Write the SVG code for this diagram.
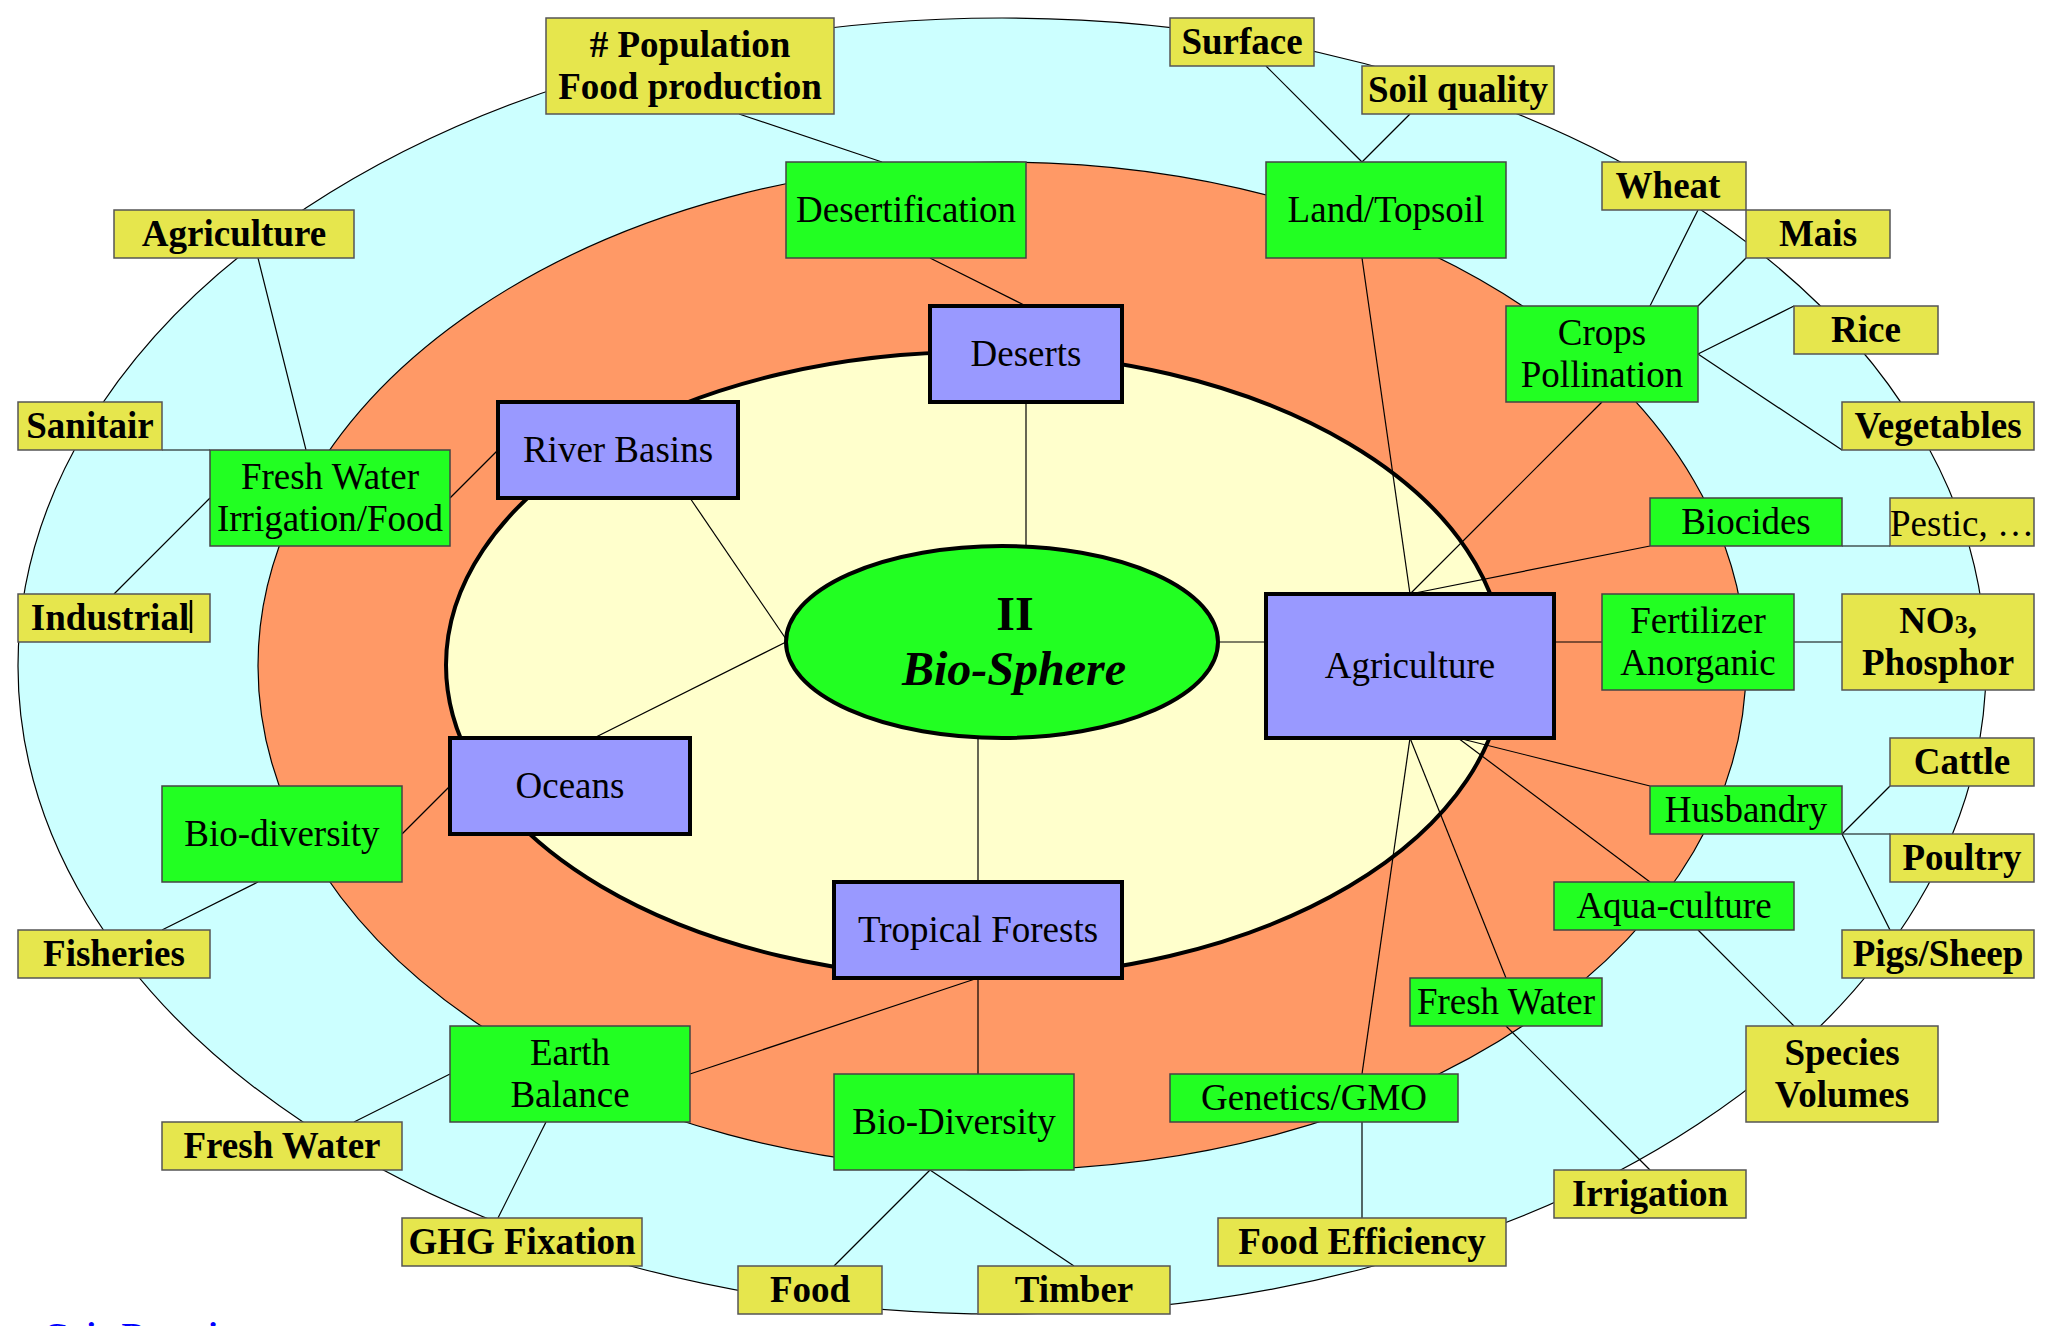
<svg xmlns="http://www.w3.org/2000/svg" width="2054" height="1326" viewBox="0 0 2054 1326">
<style>
text{font-family:"Liberation Serif","Times New Roman",serif;font-size:37px;fill:#000;text-anchor:middle}
.y rect{fill:#E6E64D;stroke:#555;stroke-width:1.5}
.y text{font-weight:bold}
.g rect{fill:#22FF22;stroke:#444;stroke-width:1.5}
.b rect{fill:#9999FF;stroke:#000;stroke-width:4}
#connectors line{stroke:#000;stroke-width:1.2}
</style>
<rect width="2054" height="1326" fill="#fff"/>
<g id="rings">
<ellipse cx="1002" cy="666" rx="984" ry="648" fill="#CCFFFF" stroke="#000" stroke-width="1.2"/>
<ellipse cx="1002" cy="666" rx="744" ry="504" fill="#FF9966" stroke="#000" stroke-width="1.2"/>
<ellipse cx="975" cy="665" rx="529" ry="313" fill="#FFFFCC" stroke="#000" stroke-width="4"/>
</g>
<g id="connectors">
<line x1="739" y1="114" x2="882" y2="162"/>
<line x1="1266" y1="66" x2="1362" y2="162"/>
<line x1="1410" y1="114" x2="1362" y2="162"/>
<line x1="258" y1="258" x2="306" y2="450"/>
<line x1="162" y1="450" x2="210" y2="450"/>
<line x1="114" y1="594" x2="210" y2="498"/>
<line x1="450" y1="498" x2="498" y2="450"/>
<line x1="930" y1="258" x2="1026" y2="306"/>
<line x1="690" y1="498" x2="788" y2="642"/>
<line x1="1026" y1="402" x2="1026" y2="548"/>
<line x1="1362" y1="258" x2="1410" y2="594"/>
<line x1="1698" y1="210" x2="1650" y2="306"/>
<line x1="1746" y1="258" x2="1698" y2="306"/>
<line x1="1794" y1="306" x2="1698" y2="354"/>
<line x1="1842" y1="450" x2="1698" y2="354"/>
<line x1="1602" y1="402" x2="1410" y2="594"/>
<line x1="1650" y1="546" x2="1410" y2="594"/>
<line x1="1842" y1="546" x2="1890" y2="546"/>
<line x1="1218" y1="642" x2="1266" y2="642"/>
<line x1="1554" y1="642" x2="1602" y2="642"/>
<line x1="1794" y1="642" x2="1842" y2="642"/>
<line x1="1410" y1="738" x2="1362" y2="1074"/>
<line x1="1410" y1="738" x2="1506" y2="978"/>
<line x1="1458" y1="738" x2="1650" y2="882"/>
<line x1="1458" y1="738" x2="1650" y2="786"/>
<line x1="1842" y1="834" x2="1890" y2="786"/>
<line x1="1842" y1="834" x2="1890" y2="834"/>
<line x1="1842" y1="834" x2="1890" y2="930"/>
<line x1="1698" y1="930" x2="1794" y2="1026"/>
<line x1="1506" y1="1026" x2="1650" y2="1170"/>
<line x1="1362" y1="1122" x2="1362" y2="1218"/>
<line x1="594" y1="738" x2="788" y2="641"/>
<line x1="450" y1="786" x2="402" y2="834"/>
<line x1="258" y1="882" x2="162" y2="930"/>
<line x1="978" y1="736" x2="978" y2="882"/>
<line x1="978" y1="978" x2="690" y2="1074"/>
<line x1="978" y1="978" x2="978" y2="1074"/>
<line x1="450" y1="1074" x2="354" y2="1122"/>
<line x1="546" y1="1122" x2="498" y2="1218"/>
<line x1="930" y1="1170" x2="834" y2="1266"/>
<line x1="930" y1="1170" x2="1074" y2="1266"/>
</g>
<g id="center">
<ellipse cx="1002" cy="642" rx="216" ry="96" fill="#22FF22" stroke="#000" stroke-width="4"/>
<text x="1015" y="630" style="font-size:48px;font-weight:bold">II</text>
<text x="1014" y="685" style="font-size:48px;font-weight:bold;font-style:italic">Bio-Sphere</text>
</g>
<!-- blue nodes -->
<g id="deserts" class="b"><rect x="930" y="306" width="192" height="96"/><text x="1026" y="366">Deserts</text></g>
<g id="river-basins" class="b"><rect x="498" y="402" width="240" height="96"/><text x="618" y="462">River Basins</text></g>
<g id="agriculture-core" class="b"><rect x="1266" y="594" width="288" height="144"/><text x="1410" y="678">Agriculture</text></g>
<g id="oceans" class="b"><rect x="450" y="738" width="240" height="96"/><text x="570" y="798">Oceans</text></g>
<g id="tropical-forests" class="b"><rect x="834" y="882" width="288" height="96"/><text x="978" y="942">Tropical Forests</text></g>
<!-- green nodes -->
<g id="desertification" class="g"><rect x="786" y="162" width="240" height="96"/><text x="906" y="222">Desertification</text></g>
<g id="land-topsoil" class="g"><rect x="1266" y="162" width="240" height="96"/><text x="1386" y="222">Land/Topsoil</text></g>
<g id="crops" class="g"><rect x="1506" y="306" width="192" height="96"/><text x="1602" y="345">Crops</text><text x="1602" y="387">Pollination</text></g>
<g id="fresh-water-irrigation" class="g"><rect x="210" y="450" width="240" height="96"/><text x="330" y="489">Fresh Water</text><text x="330" y="531">Irrigation/Food</text></g>
<g id="biocides" class="g"><rect x="1650" y="498" width="192" height="48"/><text x="1746" y="534">Biocides</text></g>
<g id="fertilizer" class="g"><rect x="1602" y="594" width="192" height="96"/><text x="1698" y="633">Fertilizer</text><text x="1698" y="675">Anorganic</text></g>
<g id="husbandry" class="g"><rect x="1650" y="786" width="192" height="48"/><text x="1746" y="822">Husbandry</text></g>
<g id="aqua-culture" class="g"><rect x="1554" y="882" width="240" height="48"/><text x="1674" y="918">Aqua-culture</text></g>
<g id="bio-diversity-ocean" class="g"><rect x="162" y="786" width="240" height="96"/><text x="282" y="846">Bio-diversity</text></g>
<g id="fresh-water-agri" class="g"><rect x="1410" y="978" width="192" height="48"/><text x="1506" y="1014">Fresh Water</text></g>
<g id="earth-balance" class="g"><rect x="450" y="1026" width="240" height="96"/><text x="570" y="1065">Earth</text><text x="570" y="1107">Balance</text></g>
<g id="bio-diversity-forest" class="g"><rect x="834" y="1074" width="240" height="96"/><text x="954" y="1134">Bio-Diversity</text></g>
<g id="genetics" class="g"><rect x="1170" y="1074" width="288" height="48"/><text x="1314" y="1110">Genetics/GMO</text></g>
<!-- yellow nodes -->
<g id="population" class="y"><rect x="546" y="18" width="288" height="96"/><text x="690" y="57"># Population</text><text x="690" y="99">Food production</text></g>
<g id="surface" class="y"><rect x="1170" y="18" width="144" height="48"/><text x="1242" y="54">Surface</text></g>
<g id="soil-quality" class="y"><rect x="1362" y="66" width="192" height="48"/><text x="1458" y="102">Soil quality</text></g>
<g id="agriculture-use" class="y"><rect x="114" y="210" width="240" height="48"/><text x="234" y="246">Agriculture</text></g>
<g id="wheat" class="y"><rect x="1602" y="162" width="144" height="48"/><text x="1668" y="198">Wheat</text></g>
<g id="mais" class="y"><rect x="1746" y="210" width="144" height="48"/><text x="1818" y="246">Mais</text></g>
<g id="rice" class="y"><rect x="1794" y="306" width="144" height="48"/><text x="1866" y="342">Rice</text></g>
<g id="vegetables" class="y"><rect x="1842" y="402" width="192" height="48"/><text x="1938" y="438">Vegetables</text></g>
<g id="pestic" class="y"><rect x="1890" y="498" width="144" height="48"/><text x="1962" y="536" style="font-weight:normal">Pestic, …</text></g>
<g id="sanitair" class="y"><rect x="18" y="402" width="144" height="48"/><text x="90" y="438">Sanitair</text></g>
<g id="industrial" class="y"><rect x="18" y="594" width="192" height="48"/><text x="110" y="630">Industrial</text><line x1="191" y1="600" x2="191" y2="633" stroke="#000" stroke-width="2.5"/></g>
<g id="no3" class="y"><rect x="1842" y="594" width="192" height="96"/><text x="1938" y="633">NO<tspan style="font-size:26px">3</tspan>,</text><text x="1938" y="675">Phosphor</text></g>
<g id="cattle" class="y"><rect x="1890" y="738" width="144" height="48"/><text x="1962" y="774">Cattle</text></g>
<g id="poultry" class="y"><rect x="1890" y="834" width="144" height="48"/><text x="1962" y="870">Poultry</text></g>
<g id="pigs-sheep" class="y"><rect x="1842" y="930" width="192" height="48"/><text x="1938" y="966">Pigs/Sheep</text></g>
<g id="fisheries" class="y"><rect x="18" y="930" width="192" height="48"/><text x="114" y="966">Fisheries</text></g>
<g id="species" class="y"><rect x="1746" y="1026" width="192" height="96"/><text x="1842" y="1065">Species</text><text x="1842" y="1107">Volumes</text></g>
<g id="fresh-water-balance" class="y"><rect x="162" y="1122" width="240" height="48"/><text x="282" y="1158">Fresh Water</text></g>
<g id="ghg" class="y"><rect x="402" y="1218" width="240" height="48"/><text x="522" y="1254">GHG Fixation</text></g>
<g id="irrigation" class="y"><rect x="1554" y="1170" width="192" height="48"/><text x="1650" y="1206">Irrigation</text></g>
<g id="food-efficiency" class="y"><rect x="1218" y="1218" width="288" height="48"/><text x="1362" y="1254">Food Efficiency</text></g>
<g id="food" class="y"><rect x="738" y="1266" width="144" height="48"/><text x="810" y="1302">Food</text></g>
<g id="timber" class="y"><rect x="978" y="1266" width="192" height="48"/><text x="1074" y="1302">Timber</text></g>
<text x="43" y="1346" style="font-size:34px;font-weight:bold;fill:#0000FF;text-anchor:start">Gaia Domain</text>
</svg>
